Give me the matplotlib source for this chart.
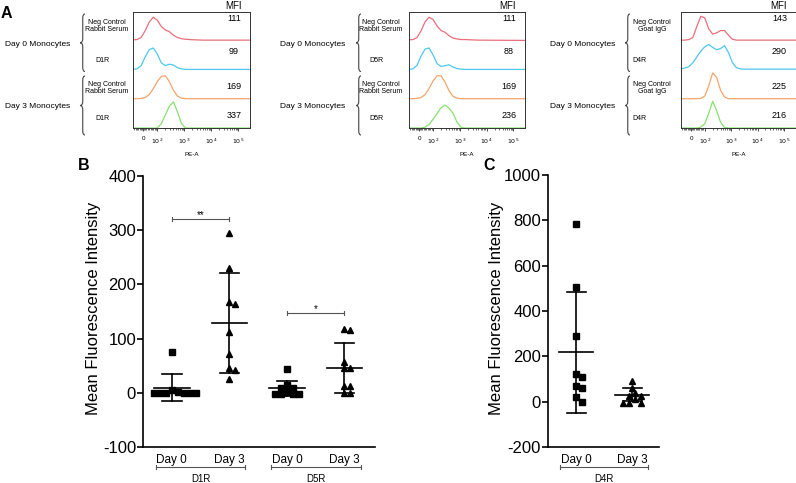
import matplotlib
matplotlib.use("Agg")
import matplotlib.pyplot as plt
import numpy as np
from matplotlib.path import Path
from matplotlib.patches import PathPatch

plt.rcParams['font.family'] = ['Liberation Sans', 'DejaVu Sans']
plt.rcParams['axes.unicode_minus'] = False

W, H = 796, 483

# ---------------- panel A: flow histograms ----------------
# PE-A position (decades, 10^2 -> 2) and curve height as fraction of one row
pe_grid = [1.1, 1.25, 1.4, 1.55, 1.7, 1.85, 2.0, 2.15, 2.3, 2.45, 2.6, 2.75, 2.9, 3.05, 3.2, 3.4, 3.7, 5.44]

d1r_neg_day0 = [0.04, 0.05, 0.12, 0.35, 0.65, 0.82, 0.72, 0.50, 0.38, 0.32, 0.20, 0.12, 0.08, 0.06, 0.05, 0.04, 0.03, 0.03]
d1r_rec_day0 = [0.02, 0.04, 0.15, 0.45, 0.70, 0.76, 0.55, 0.25, 0.15, 0.20, 0.17, 0.08, 0.04, 0.02, 0.02, 0.02, 0.02, 0.02]
d1r_neg_day3 = [0.01, 0.01, 0.02, 0.05, 0.15, 0.35, 0.60, 0.78, 0.80, 0.60, 0.30, 0.10, 0.03, 0.01, 0.01, 0.01, 0.01, 0.01]
d1r_rec_day3 = [0, 0, 0, 0, 0, 0, 0, 0.15, 0.45, 0.75, 0.90, 0.55, 0.15, 0, 0, 0, 0, 0]

d5r_neg_day0 = [0.04, 0.05, 0.12, 0.35, 0.66, 0.82, 0.74, 0.52, 0.36, 0.30, 0.18, 0.10, 0.07, 0.05, 0.05, 0.04, 0.03, 0.02]
d5r_rec_day0 = [0.02, 0.04, 0.16, 0.48, 0.72, 0.76, 0.52, 0.22, 0.12, 0.15, 0.18, 0.10, 0.05, 0.03, 0.02, 0.02, 0.02, 0.02]
d5r_neg_day3 = [0.01, 0.01, 0.02, 0.05, 0.15, 0.36, 0.62, 0.80, 0.80, 0.58, 0.28, 0.09, 0.03, 0.01, 0.01, 0.01, 0.01, 0.01]
d5r_rec_day3 = [0, 0, 0, 0, 0.03, 0.12, 0.30, 0.50, 0.70, 0.79, 0.68, 0.50, 0.20, 0.02, 0, 0, 0, 0]

d4r_neg_day0 = [0.03, 0.03, 0.05, 0.12, 0.50, 0.85, 0.80, 0.42, 0.24, 0.28, 0.36, 0.36, 0.20, 0.06, 0.03, 0.03, 0.03, 0.03]
d4r_rec_day0 = [0.04, 0.07, 0.12, 0.25, 0.45, 0.65, 0.80, 0.88, 0.78, 0.70, 0.74, 0.84, 0.60, 0.25, 0.08, 0.03, 0.03, 0.03]
d4r_neg_day3 = [0.01, 0.01, 0.01, 0.01, 0.01, 0.02, 0.10, 0.45, 0.90, 0.75, 0.30, 0.07, 0.01, 0.01, 0.01, 0.01, 0.01, 0.01]
d4r_rec_day3 = [0, 0, 0, 0, 0, 0.03, 0.15, 0.50, 0.92, 0.60, 0.20, 0.02, 0, 0, 0, 0, 0, 0]

d1r_mfi = [111, 99, 169, 337]
d5r_mfi = [111, 88, 169, 236]
d4r_mfi = [143, 290, 225, 216]

pe_ticks = [1.48, 2, 3, 4, 5]
pe_ticklabels = ['0', '$10^2$', '$10^3$', '$10^4$', '$10^5$']

# ---------------- panel B / C: MFI scatter ----------------
day_labels = ['Day 0', 'Day 3']

d1r_day0 = [75, 5, 2, 0, 0, 0, 0, 0, 0]
d1r_day3 = [294, 231, 167, 163, 112, 72, 45, 42, 26]
d5r_day0 = [43, 15, 9, 8, 2, -3, -3, -3, -3]
d5r_day3 = [117, 115, 57, 46, 45, 13, 12, -1, -1]
b_means = [9, 129, 8, 45]
b_sds = [25, 92, 14, 46]
b_sig = [(0, 1, 320, '**'), (2, 3, 147, '*')]

d4r_day0 = [783, 505, 290, 121, 109, 69, 61, 21, 0]
d4r_day3 = [91, 61, 38, 27, 27, 12, -4, -4, -4]
c_means = [218, 31]
c_sds = [266, 29]

colors = ['#e86f7b', '#4ec8ee', '#f6a46b', '#88e070']

fig = plt.figure(figsize=(W / 100, H / 100), dpi=100)


def box(l, t, r, b):
    return [l / W, 1 - b / H, (r - l) / W, (b - t) / H]


ov = fig.add_axes([0, 0, 1, 1], zorder=10)
ov.set_xlim(0, W)
ov.set_ylim(H, 0)
ov.axis('off')


def brace(x_tip, y0, y1, w=5, r=4):
    xm = x_tip + w * 0.55
    xa = x_tip + w
    yc = (y0 + y1) / 2
    verts = [(xa, y0), (xm, y0), (xm, y0 + r), (xm, yc - r),
             (xm, yc), (x_tip, yc), (xm, yc), (xm, yc + r),
             (xm, y1 - r), (xm, y1), (xa, y1)]
    codes = [Path.MOVETO, Path.CURVE3, Path.CURVE3, Path.LINETO,
             Path.CURVE3, Path.CURVE3, Path.CURVE3, Path.CURVE3,
             Path.LINETO, Path.CURVE3, Path.CURVE3]
    ov.add_patch(PathPatch(Path(verts, codes), fill=False, ec='#444444', lw=0.8))


hist_panels = [
    (133, 250, [d1r_neg_day0, d1r_rec_day0, d1r_neg_day3, d1r_rec_day3], d1r_mfi,
     'Neg Control\nRabbit Serum', 'D1R', 5, 80, 107, 95),
    (409, 525, [d5r_neg_day0, d5r_rec_day0, d5r_neg_day3, d5r_rec_day3], d5r_mfi,
     'Neg Control\nRabbit Serum', 'D5R', 280, 356, 381, 369),
    (681, 795.5, [d4r_neg_day0, d4r_rec_day0, d4r_neg_day3, d4r_rec_day3], d4r_mfi,
     'Neg Control\nGoat IgG', 'D4R', 550, 625, 652, 632),
]

top, bot = 12, 128
row_h = (bot - top) / 4
mfi_frac = [0.76, 0.63, 0.44, 0.42]
minor = [1.15 + 0.05 * i for i in range(17)] + [d + np.log10(k) for d in (2, 3, 4) for k in range(2, 10)]

for left, right, traces, mfi, neg_lab, rec_lab, day_x, brace_x, neg_x, rec_x in hist_panels:
    ax = fig.add_axes(box(left, top, right, bot))
    for i, tr in enumerate(traces):
        ax.plot(pe_grid, np.array(tr) + (3 - i), color=colors[i], lw=0.9, zorder=1)
    ax.set_xlim(1.1, 5.44)
    ax.set_ylim(0, 4)
    ax.set_yticks([])
    ax.set_xticks(pe_ticks)
    ax.set_xticklabels(pe_ticklabels, fontsize=4.5)
    ax.set_xticks(minor, minor=True)
    ax.tick_params(axis='x', which='major', length=2, width=0.5, pad=4)
    ax.tick_params(axis='x', which='minor', length=1.5, width=0.4)
    for s in ax.spines.values():
        s.set_linewidth(0.7)
        s.set_color('#333333')
    ov.text((left + right) / 2, 154, 'PE-A', fontsize=4.5, ha='center', va='center')
    ov.text(right - 17, 6, 'MFI', fontsize=7, ha='center', va='center')
    for i, v in enumerate(mfi):
        base = top + row_h * (i + 1)
        ov.text(right - 16, base - mfi_frac[i] * row_h, str(v), fontsize=6.5, ha='center', va='center')
    ov.text(day_x, 44, 'Day 0 Monocytes', fontsize=6, ha='left', va='center')
    ov.text(day_x, 107, 'Day 3 Monocytes', fontsize=6, ha='left', va='center')
    brace(brace_x, 14, 71.5)
    brace(brace_x, 76, 135)
    ov.text(neg_x, 26, neg_lab, fontsize=5, ha='center', va='center', linespacing=1.1)
    ov.text(rec_x, 60, rec_lab, fontsize=5, ha='left', va='center')
    ov.text(neg_x, 88, neg_lab, fontsize=5, ha='center', va='center', linespacing=1.1)
    ov.text(rec_x, 118.5, rec_lab, fontsize=5, ha='left', va='center')


def to_img(ax, x, y):
    dx, dy = ax.transData.transform((x, y))
    return dx, H - dy


def swarm(ax, xc, vals, diam=6.0):
    inv = ax.transData.inverted()
    placed = []
    xs = []
    offs = [0]
    for i in range(1, 12):
        offs += [i, -i]
    for v in vals:
        cx, cy = ax.transData.transform((xc, v))
        for o in offs:
            px = cx + o * diam * 0.5
            if all(np.hypot(px - qx, cy - qy) >= diam * 0.95 for qx, qy in placed):
                break
        placed.append((px, cy))
        xs.append(inv.transform((px, cy))[0])
    return xs


def scatter_panel(ax, groups, means, sds):
    for i, (vals, mk, ms) in enumerate(groups):
        xs = swarm(ax, i, vals)
        ax.plot(xs, vals, mk, color='black', ms=ms, ls='none', zorder=3, clip_on=False)
        m, s = means[i], sds[i]
        ax.plot([i - 0.31, i + 0.31], [m, m], color='black', lw=1.2, zorder=4)
        ax.plot([i, i], [m - s, m + s], color='black', lw=1.2, zorder=4)
        for y in (m - s, m + s):
            ax.plot([i - 0.17, i + 0.17], [y, y], color='black', lw=1.2, zorder=4)
    for s in ('top', 'right'):
        ax.spines[s].set_visible(False)
    for s in ('left', 'bottom'):
        ax.spines[s].set_linewidth(1.2)
    ax.tick_params(axis='y', labelsize=12, length=4, width=1.2, pad=1)
    ax.tick_params(axis='x', labelsize=8.5, length=0, pad=5)
    ax.set_xticks(range(len(groups)))
    ax.set_xticklabels([day_labels[i % 2] for i in range(len(groups))])


def group_bracket(ax, x0, x1, label):
    a = to_img(ax, x0 - 0.28, 0)[0]
    b = to_img(ax, x1 + 0.28, 0)[0]
    y = 467
    ov.plot([a, b], [y, y], color='#555555', lw=0.8)
    for x in (a, b):
        ov.plot([x, x], [y - 2, y + 2], color='#555555', lw=0.8)
    ov.text((a + b) / 2, 479, label, fontsize=7, ha='center', va='center')


# panel B
axB = fig.add_axes(box(143, 176, 375, 447))
axB.set_xlim(-0.5, 3.53)
axB.set_ylim(-100, 400)
axB.set_yticks([-100, 0, 100, 200, 300, 400])
scatter_panel(axB, [(d1r_day0, 's', 3.8), (d1r_day3, '^', 4.5),
                    (d5r_day0, 's', 3.8), (d5r_day3, '^', 4.5)], b_means, b_sds)
axB.set_ylabel('Mean Fluorescence Intensity', fontsize=12)
axB.yaxis.set_label_coords(-0.18, 0.51)
for x0, x1, yv, star in b_sig:
    a, yy = to_img(axB, x0, yv)
    b, _ = to_img(axB, x1, yv)
    ov.plot([a, b], [yy, yy], color='#555555', lw=0.8)
    for x in (a, b):
        ov.plot([x, x], [yy - 2, yy + 2], color='#555555', lw=0.8)
    ov.text((a + b) / 2, yy - 4, star, fontsize=7, ha='center', va='center')
group_bracket(axB, 0, 1, 'D1R')
group_bracket(axB, 2, 3, 'D5R')

# panel C
axC = fig.add_axes(box(548, 175, 659, 447))
axC.set_xlim(-0.5, 1.48)
axC.set_ylim(-200, 1000)
axC.set_yticks(range(-200, 1001, 200))
scatter_panel(axC, [(d4r_day0, 's', 3.8), (d4r_day3, '^', 4.5)], c_means, c_sds)
axC.set_ylabel('Mean Fluorescence Intensity', fontsize=12)
axC.yaxis.set_label_coords(-0.40, 0.51)
group_bracket(axC, 0, 1, 'D4R')

ov.text(6, 14, 'A', fontsize=11.5, fontweight='bold', ha='center', va='center')
ov.text(84, 166, 'B', fontsize=11.5, fontweight='bold', ha='center', va='center')
ov.text(489, 166, 'C', fontsize=11.5, fontweight='bold', ha='center', va='center')

fig.savefig('out.png', dpi=100)
